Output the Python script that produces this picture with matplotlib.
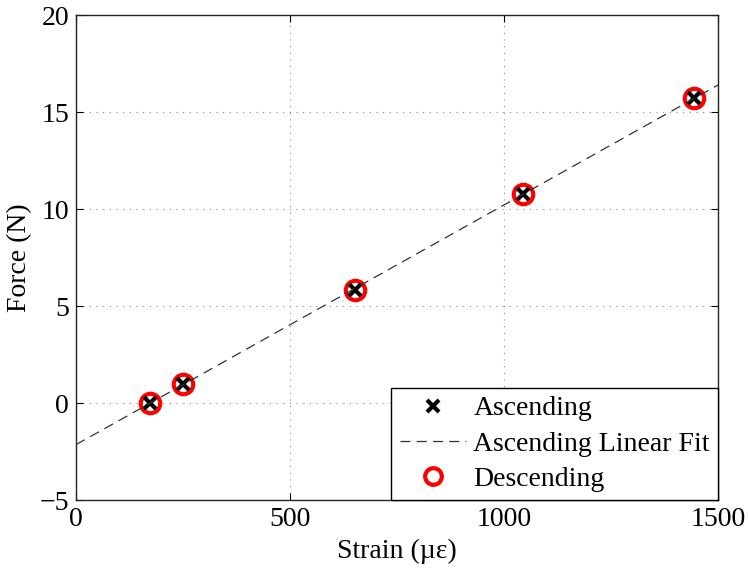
import numpy as np
import matplotlib
matplotlib.use("Agg")
import matplotlib.pyplot as plt

plt.rcParams['font.family'] = ['Liberation Serif', 'DejaVu Serif']
plt.rcParams['axes.unicode_minus'] = False

# Calibration measurements
strain_asc = [173, 249, 652, 1044, 1444]
force_asc = [0.0, 0.98, 5.82, 10.77, 15.72]
strain_desc = [173, 249, 652, 1044, 1444]
force_desc = [0.0, 0.98, 5.82, 10.77, 15.72]

x_ticks = [0, 500, 1000, 1500]
y_ticks = [-5, 0, 5, 10, 15, 20]
y_tick_labels = ['\u22125', '0', '5', '10', '15', '20']

# Linear fit over the ascending data
slope, intercept = np.polyfit(strain_asc, force_asc, 1)
fit_x = np.array([0, 1500])
fit_y = slope * fit_x + intercept

fig = plt.figure(figsize=(7.48, 5.71), dpi=100)
ax = fig.add_axes([0.1016, 0.1243, 0.8584, 0.8494])

ax.plot(strain_desc, force_desc, 'o', ms=14, mfc='white', mec='red', mew=3,
        label='Descending', zorder=3)
ax.plot(strain_asc, force_asc, 'x', ms=8, mec='black', mew=3,
        label='Ascending', zorder=4)
ax.plot(fit_x, fit_y, '--', color='#333333', lw=0.9, dashes=(8, 5),
        label='Ascending Linear Fit', zorder=5)

ax.set_xlim(0, 1500)
ax.set_ylim(-5, 20)
ax.set_xticks(x_ticks)
ax.set_yticks(y_ticks)
ax.set_yticklabels(y_tick_labels)
ax.tick_params(direction='in', length=5, width=0.8, labelsize=20,
               top=True, right=True, pad=5)
ax.grid(True, linestyle=(0, (1, 5)), color='#888888', lw=0.8)
for s in ax.spines.values():
    s.set_linewidth(1.0)
    s.set_color('#222222')

ax.set_xlabel('Strain (µε)', fontsize=20, labelpad=5)
ax.set_ylabel('Force (N)', fontsize=20, labelpad=5)

handles, labels = ax.get_legend_handles_labels()
order = [1, 2, 0]
leg = ax.legend([handles[i] for i in order], [labels[i] for i in order],
                loc='lower right', fontsize=20, fancybox=False, framealpha=1,
                edgecolor='black', borderaxespad=0, handlelength=2.4,
                labelspacing=0.35, borderpad=0.3, handletextpad=0.25)
leg.get_frame().set_linewidth(1.0)
leg.legend_handles[0].set_markersize(8)
leg.legend_handles[2].set_markersize(12)

fig.savefig('out.png', dpi=100)
